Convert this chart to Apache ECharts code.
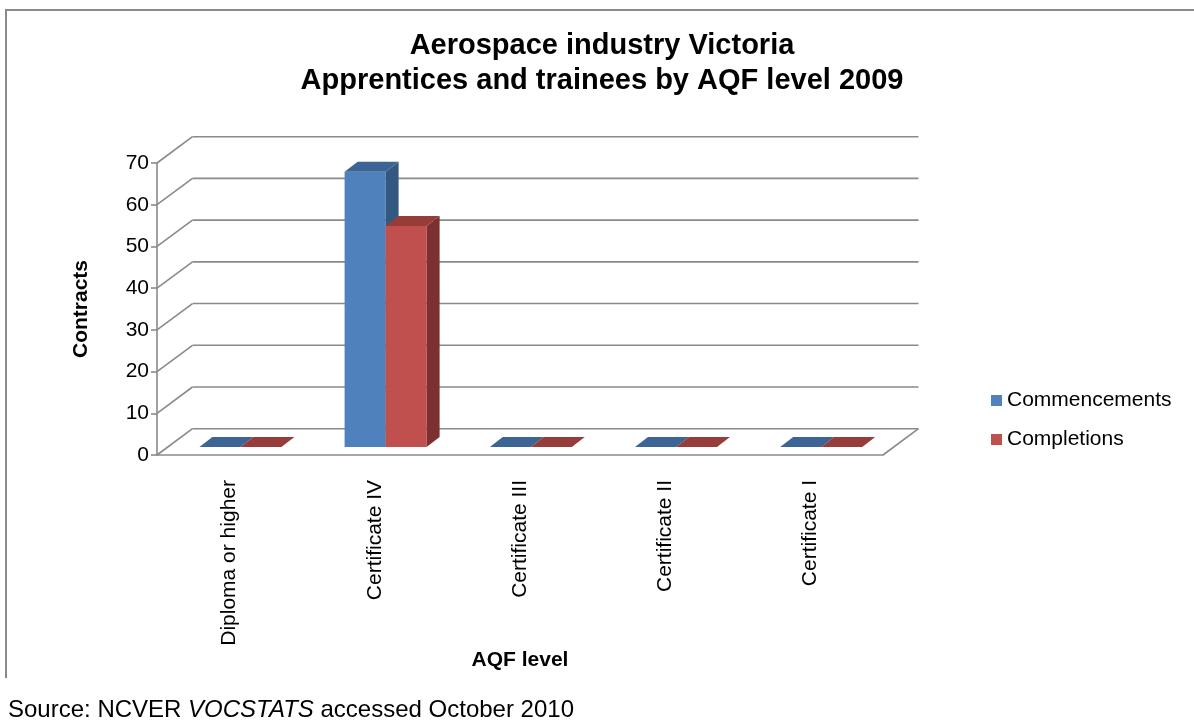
<!DOCTYPE html>
<html>
<head>
<meta charset="utf-8">
<style>
html,body{margin:0;padding:0;background:#fff;}
#chart{width:1194px;height:720px;}
</style>
<script src="https://cdn.jsdelivr.net/npm/echarts@6/dist/echarts.min.js"></script>
</head>
<body>
<div id="chart"></div>
<script>
// ---- data ----
var categories = ['Diploma or higher', 'Certificate IV', 'Certificate III', 'Certificate II', 'Certificate I'];
var seriesNames = ['Commencements', 'Completions'];
var commencements = [0, 66, 0, 0, 0];
var completions = [0, 53, 0, 0, 0];
var yTicks = [0, 10, 20, 30, 40, 50, 60, 70];

// ---- style constants ----
var FONT = '"Liberation Sans", Arial, Helvetica, sans-serif';
var GRID_COLOR = '#8a8a8a';
var DXF = 35.5, DYF = -26.3;     // full depth of the 3D box
var OFF_X = 10.8, OFF_Y = -8;    // bar front offset into depth
var DX = 13, DY = -10;           // bar depth
var BAR_FRAC = 0.2824;           // bar width as fraction of band
var palettes = [
  ['#4F81BD', '#3C6595', '#345981'],
  ['#C0504D', '#963D3A', '#7C3130']
];

var chart = echarts.init(document.getElementById('chart'), null, {renderer: 'canvas'});

function wallRender(params, api) {
  var cs = params.coordSys;
  var v = api.value(1);
  var p = api.coord([0, v]);
  var y = p[1];
  var x0 = cs.x, x1 = cs.x + cs.width;
  var ls = {stroke: GRID_COLOR, lineWidth: 1.6, fill: null};
  var ch = [];
  ch.push({type: 'line', shape: {x1: x0, y1: y, x2: x0 + DXF, y2: y + DYF}, style: ls});
  ch.push({type: 'line', shape: {x1: x0 + DXF, y1: y + DYF, x2: x1 + DXF, y2: y + DYF}, style: ls});
  if (v === 0) {
    ch.push({type: 'line', shape: {x1: x1, y1: y, x2: x1 + DXF, y2: y + DYF}, style: ls});
  }
  return {type: 'group', children: ch, silent: true};
}

function barRender(sIdx) {
  var colors = palettes[sIdx];
  return function (params, api) {
    var idx = api.value(0), v = api.value(1);
    var base = api.coord([idx, 0]);
    var top = api.coord([idx, v]);
    var band = api.size([1, 0])[0];
    var w = band * BAR_FRAC;
    var x0 = base[0] - w + sIdx * w + OFF_X;
    var x1 = x0 + w;
    var yb = base[1] + OFF_Y, yt = top[1] + OFF_Y;
    var ch = [];
    if (yb - yt > 0.5) {
      ch.push({type: 'rect', shape: {x: x0, y: yt, width: w, height: yb - yt}, style: {fill: colors[0]}});
      ch.push({type: 'polygon', shape: {points: [[x1, yt], [x1 + DX, yt + DY], [x1 + DX, yb + DY], [x1, yb]]}, style: {fill: colors[2]}});
    }
    ch.push({type: 'polygon', shape: {points: [[x0, yt], [x1, yt], [x1 + DX, yt + DY], [x0 + DX, yt + DY]]}, style: {fill: colors[1]}});
    return {type: 'group', children: ch};
  };
}

var option = {
  animation: false,
  backgroundColor: '#ffffff',
  title: {
    text: 'Aerospace industry Victoria\nApprentices and trainees by AQF level 2009',
    left: 602,
    textAlign: 'center',
    top: 28,
    padding: 0,
    textStyle: {fontFamily: FONT, fontSize: 29, fontWeight: 'bold', color: '#000', lineHeight: 35}
  },
  legend: {
    data: seriesNames,
    orient: 'vertical',
    left: 986,
    top: 385,
    itemWidth: 11,
    itemHeight: 11,
    itemGap: 18,
    itemTextGap: 4,
    icon: 'rect',
    textStyle: {fontFamily: FONT, fontSize: 21, color: '#000', lineHeight: 21}
  },
  grid: {left: 157, top: 163, width: 726, height: 292, containLabel: false},
  xAxis: {
    type: 'category',
    data: categories,
    name: 'AQF level',
    nameLocation: 'middle',
    nameGap: 193,
    nameTextStyle: {fontFamily: FONT, fontSize: 21, fontWeight: 'bold', color: '#000'},
    axisLine: {show: true, lineStyle: {color: GRID_COLOR, width: 1.6}},
    axisTick: {show: false},
    axisLabel: {rotate: 90, margin: 25, fontFamily: FONT, fontSize: 21, color: '#000'},
    splitLine: {show: false}
  },
  yAxis: {
    type: 'value',
    min: 0,
    max: 70,
    interval: 10,
    name: 'Contracts',
    nameLocation: 'middle',
    nameRotate: 90,
    nameGap: 65,
    nameTextStyle: {fontFamily: FONT, fontSize: 21, fontWeight: 'bold', color: '#000'},
    axisLine: {show: true, lineStyle: {color: GRID_COLOR, width: 1.6}},
    axisTick: {show: true, length: 6, lineStyle: {color: GRID_COLOR, width: 1.6}},
    axisLabel: {margin: 8, fontFamily: FONT, fontSize: 21, color: '#000'},
    splitLine: {show: false}
  },
  graphic: [
    {type: 'line', shape: {x1: 6, y1: 10, x2: 1194, y2: 10}, style: {stroke: '#8a8a8a', lineWidth: 2}},
    {type: 'line', shape: {x1: 6, y1: 9, x2: 6, y2: 678}, style: {stroke: '#8a8a8a', lineWidth: 2}},
    {
      type: 'text', left: 8, top: 698,
      style: {
        text: 'Source: NCVER {i|VOCSTATS} accessed October 2010',
        font: '24px ' + FONT,
        fill: '#000',
        rich: {i: {fontStyle: 'italic', fontSize: 24, fontFamily: FONT, fill: '#000'}}
      }
    }
  ],
  series: [
    {
      type: 'custom',
      name: 'walls',
      silent: true,
      clip: false,
      renderItem: wallRender,
      data: yTicks.map(function (v) { return [0, v]; }),
      itemStyle: {color: GRID_COLOR},
      z: 1
    },
    {
      type: 'custom',
      name: seriesNames[0],
      clip: false,
      renderItem: barRender(0),
      itemStyle: {color: palettes[0][0]},
      data: commencements.map(function (v, i) { return [i, v]; }),
      z: 2
    },
    {
      type: 'custom',
      name: seriesNames[1],
      clip: false,
      renderItem: barRender(1),
      itemStyle: {color: palettes[1][0]},
      data: completions.map(function (v, i) { return [i, v]; }),
      z: 2
    }
  ]
};
chart.setOption(option);
</script>
</body>
</html>
